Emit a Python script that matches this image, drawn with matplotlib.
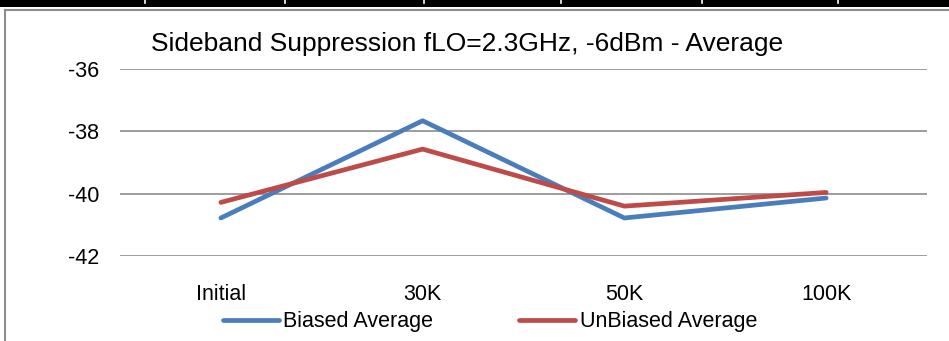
import matplotlib
matplotlib.use('Agg')
import matplotlib.pyplot as plt
from matplotlib.patches import Rectangle
from matplotlib.lines import Line2D

plt.rcParams['font.family'] = ['Liberation Sans', 'DejaVu Sans']

# Data
categories = ['Initial', '30K', '50K', '100K']
biased_avg = [-40.78, -37.66, -40.78, -40.14]
unbiased_avg = [-40.28, -38.57, -40.40, -39.96]
y_ticks = [-42, -40, -38, -36]

W, H = 949, 341
fig = plt.figure(figsize=(W / 100, H / 100), dpi=100)

# black table border at the very top, with small white notches
fig.add_artist(Rectangle((0, 1 - 7 / H), 1, 7 / H, transform=fig.transFigure,
                         facecolor='black', edgecolor='none'))
for nx in [145, 285, 424, 561, 702, 838]:
    fig.add_artist(Line2D([nx / W, nx / W], [1, 1 - 3 / H], transform=fig.transFigure,
                          color='white', linewidth=1.2))

# gray chart frame
fig.add_artist(Line2D([4.5 / W, 4.5 / W], [1 - 10 / H, 0], transform=fig.transFigure,
                      color='#8c8c8c', linewidth=1.5))
fig.add_artist(Line2D([4.5 / W, 1], [1 - 10 / H, 1 - 10 / H], transform=fig.transFigure,
                      color='#8c8c8c', linewidth=1.5))

ax = fig.add_axes([120 / W, (H - 256) / H, (927 - 120) / W, (256 - 69) / H])

x = list(range(len(categories)))
ax.plot(x, biased_avg, color='#4A7EBB', linewidth=3.4, solid_capstyle='round',
        label='Biased Average', zorder=3)
ax.plot(x, unbiased_avg, color='#BE4B48', linewidth=3.4, solid_capstyle='round',
        label='UnBiased Average', zorder=3)

ax.set_xlim(-0.5, len(categories) - 0.5)
ax.set_ylim(-42, -36)
ax.set_yticks(y_ticks)
ax.set_yticklabels([str(v) for v in y_ticks])
ax.set_xticks(x)
ax.set_xticklabels(categories)
ax.tick_params(axis='both', length=0, labelsize=15.5)
ax.tick_params(axis='y', pad=15)
ax.tick_params(axis='x', pad=20)

ax.grid(axis='y', color='#8c8c8c', linewidth=1.2)
ax.set_axisbelow(True)
for s in ax.spines.values():
    s.set_visible(False)

fig.text(467 / W, 1 - 51 / H, 'Sideband Suppression fLO=2.3GHz, -6dBm - Average',
         ha='center', va='baseline', fontsize=19)

fig.legend(loc='center left', bbox_to_anchor=(223 / W, 1 - 322 / H), ncol=2, frameon=False,
           fontsize=15.5, handlelength=2.6, handletextpad=0.2, columnspacing=4.0,
           borderaxespad=0, borderpad=0)

fig.savefig('out.png', dpi=100)
